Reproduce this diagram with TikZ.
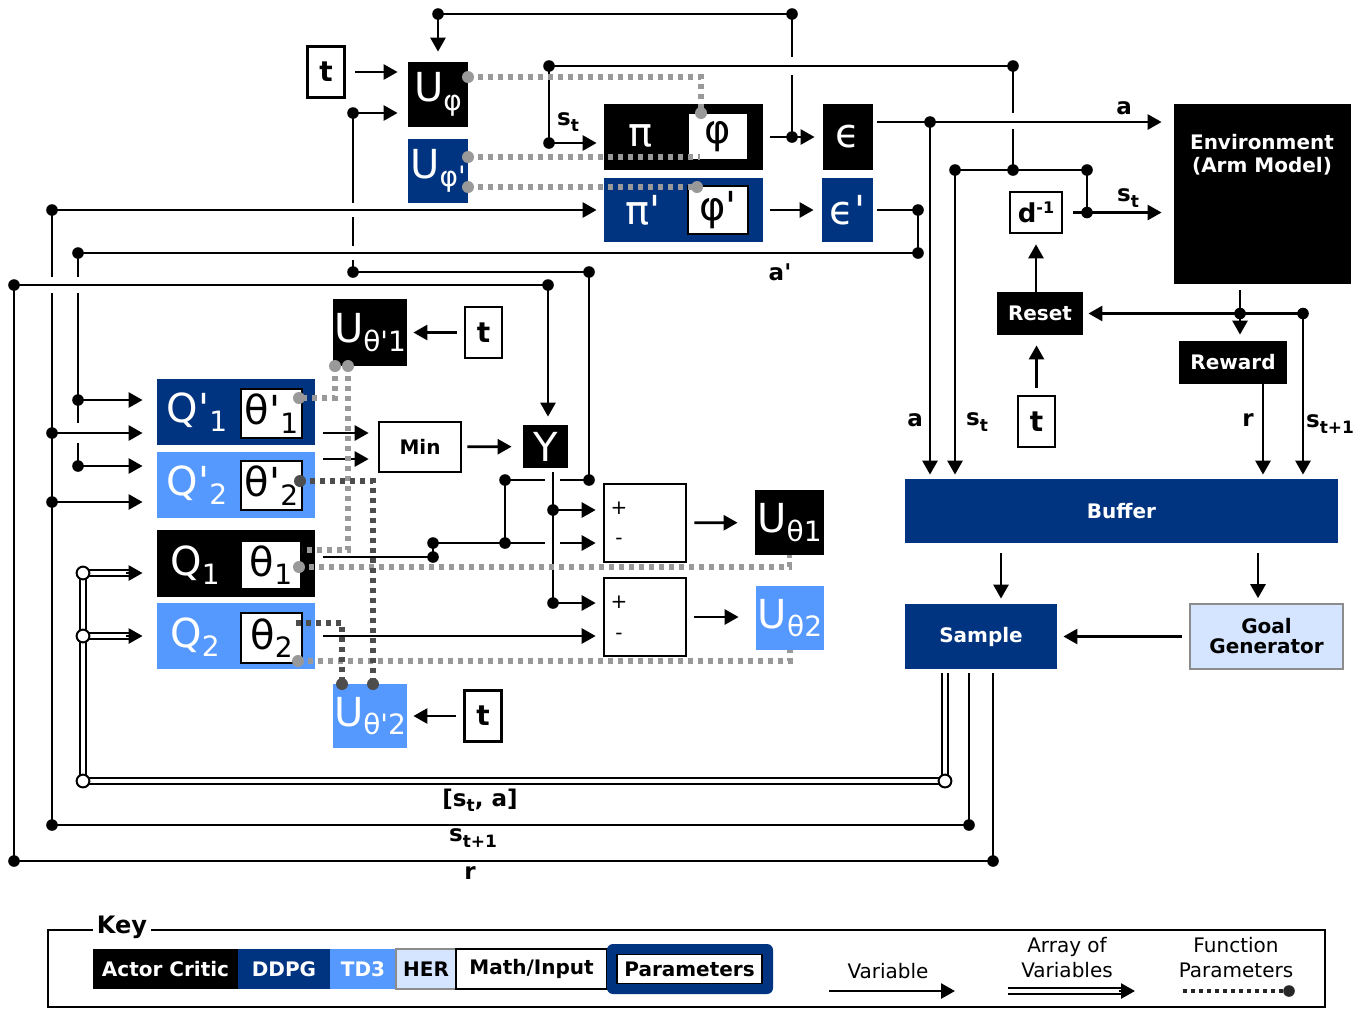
\documentclass[tikz,border=0pt]{standalone}
\usepackage{fontspec}
\setmainfont{DejaVu Sans}[Ligatures=TeXOff]
\usetikzlibrary{arrows.meta, positioning, calc}

\definecolor{navy}{HTML}{003380}
\definecolor{tdblue}{HTML}{5599FF}
\definecolor{herblue}{HTML}{D5E5FF}
\definecolor{parlight}{HTML}{999999}
\definecolor{pardark}{HTML}{4D4D4D}

\newcommand{\bigs}[1]{{\fontsize{20}{20}\selectfont #1}}
\newcommand{\lsub}[1]{{\fontsize{14}{14}\selectfont\raisebox{-0.3em}{#1}}}
\newcommand{\ssub}[1]{{\fontsize{8.5}{8.5}\selectfont\raisebox{-0.3em}{#1}}}

\tikzset{
    blk/.style={fill=black, text=white, inner sep=0pt},
    ddpg/.style={fill=navy, text=white, inner sep=0pt},
    td3/.style={fill=tdblue, text=white, inner sep=0pt},
    her/.style={fill=herblue, draw=black!45, line width=0.8pt, inner sep=0pt},
    mathbox/.style={draw, fill=white, line width=1.3pt, inner sep=0pt},
    prm/.style={draw, fill=white, line width=0.8pt, inner sep=0pt},
    tbox/.style={minimum width=18.5pt, minimum height=25.5pt, font=\fontsize{14}{14}\selectfont\bfseries},
    ln/.style={line width=1.35pt},
    arr/.style={line width=1.35pt, -{Triangle[length=7pt,width=7.5pt]}},
    dbl/.style={double, double distance=1.9pt, line width=1pt},
    plite/.style={parlight, line width=2.6pt, dash pattern=on 2.6pt off 2.4pt},
    pdrk/.style={pardark, line width=2.6pt, dash pattern=on 2.6pt off 2.4pt},
    lbl/.style={font=\fontsize{11.5}{11.5}\selectfont\bfseries, inner sep=0pt},
}

\begin{document}
\begin{tikzpicture}[x=0.5pt, y=-0.5pt]
    \useasboundingbox (0,0) rectangle (1365,1009);

    % Actor
    \node[mathbox, tbox] (t1) at (326,72) {t};
    \node[blk, minimum width=30pt, minimum height=32.5pt] (Uphi) at (438,94.5) {\bigs{U}\lsub{φ}};
    \node[ddpg, minimum width=30pt, minimum height=32pt] (Uphip) at (438,171) {\bigs{U}\lsub{φ'}};
    \node[blk, minimum width=79.5pt, minimum height=33pt] (pi) at (683.5,137) {};
    \node[text=white, inner sep=0pt] (pitxt) at (641,136) {\bigs{π}};
    \node[prm, minimum width=30pt, minimum height=23.5pt] (phi) at (718,136.5) {\bigs{φ}};
    \node[ddpg, minimum width=79.5pt, minimum height=32pt] (pip) at (683.5,210) {};
    \node[text=white, inner sep=0pt] (piptxt) at (643,210) {\bigs{π'}};
    \node[prm, minimum width=30pt, minimum height=24pt] (phip) at (718,210) {\bigs{φ'}};
    \node[blk, minimum width=25pt, minimum height=33pt] (eps) at (848,137) {\bigs{ϵ}};
    \node[ddpg, minimum width=25.5pt, minimum height=32pt] (epsp) at (847.5,210) {\bigs{ϵ'}};

    % Environment side
    \node[blk, minimum width=88.5pt, minimum height=90pt] (env) at (1262.5,194) {};
    \node[text=white, align=center, inner sep=0pt, font=\fontsize{10}{11.5}\selectfont\bfseries] (envtxt) at (1262,155) {Environment\\(Arm Model)};
    \node[mathbox, minimum width=26pt, minimum height=20.5pt] (dinv) at (1036,212.5) {{\fontsize{13}{13}\selectfont\bfseries d}{\fontsize{8}{8}\selectfont\bfseries\raisebox{0.55em}{-1}}};
    \node[blk, minimum width=43pt, minimum height=21.5pt, font=\bfseries] (reset) at (1040,313.5) {Reset};
    \node[mathbox, tbox] (t2) at (1036.5,421.5) {t};
    \node[blk, minimum width=54pt, minimum height=21.5pt, font=\bfseries] (reward) at (1233,362.5) {Reward};
    \node[ddpg, minimum width=216.5pt, minimum height=32pt, font=\bfseries] (buffer) at (1121.5,511) {Buffer};
    \node[ddpg, minimum width=76pt, minimum height=32.5pt, font=\bfseries] (sample) at (981,636.5) {Sample};
    \node[her, minimum width=76.5pt, minimum height=32.5pt, align=center, font=\fontsize{10}{10}\selectfont\bfseries] (goal) at (1266.5,636.5) {Goal\\Generator};

    % Critics
    \node[ddpg, minimum width=79pt, minimum height=33pt] (Qp1) at (236,412) {};
    \node[text=white, inner sep=0pt] (Qp1txt) at (197,412) {\bigs{Q'}\lsub{1}};
    \node[prm, minimum width=30.5pt, minimum height=24.5pt] (thp1) at (271.5,413.5) {\bigs{θ'}\lsub{1}};
    \node[td3, minimum width=79pt, minimum height=33pt] (Qp2) at (236,485) {};
    \node[text=white, inner sep=0pt] (Qp2txt) at (197,485) {\bigs{Q'}\lsub{2}};
    \node[prm, minimum width=30.5pt, minimum height=24.5pt] (thp2) at (271.5,485.5) {\bigs{θ'}\lsub{2}};
    \node[blk, minimum width=79pt, minimum height=33.5pt] (Q1) at (236,563.5) {};
    \node[text=white, inner sep=0pt] (Q1txt) at (195,565) {\bigs{Q}\lsub{1}};
    \node[prm, minimum width=30pt, minimum height=24pt] (th1) at (271,565) {\bigs{θ}\lsub{1}};
    \node[td3, minimum width=79pt, minimum height=33pt] (Q2) at (236,636) {};
    \node[text=white, inner sep=0pt] (Q2txt) at (195,637) {\bigs{Q}\lsub{2}};
    \node[prm, minimum width=30.5pt, minimum height=25pt] (th2) at (271.5,638) {\bigs{θ}\lsub{2}};

    % Critic updates
    \node[blk, minimum width=37pt, minimum height=33.5pt] (Utp1) at (370,332.5) {\bigs{U}\lsub{θ'1}};
    \node[mathbox, tbox] (t3) at (483.5,332.5) {t};
    \node[mathbox, minimum width=41pt, minimum height=25pt, font=\bfseries] (minb) at (420,447) {Min};
    \node[blk, minimum width=22.5pt, minimum height=21.5pt] (Yb) at (545.5,446.5) {\bigs{Y}};
    \node[mathbox, minimum width=41pt, minimum height=39pt] (sub1) at (645,523) {};
    \node[inner sep=0pt] (plus1) at (619,508) {+};
    \node[inner sep=0pt] (minus1) at (619,541) {-};
    \node[mathbox, minimum width=41pt, minimum height=39pt] (sub2) at (645,617) {};
    \node[inner sep=0pt] (plus2) at (619,602) {+};
    \node[inner sep=0pt] (minus2) at (619,636) {-};
    \node[blk, minimum width=34.5pt, minimum height=32.5pt] (Ut1) at (789.5,522.5) {\bigs{U}\lsub{θ1}};
    \node[td3, minimum width=34pt, minimum height=32pt] (Ut2) at (790,618) {\bigs{U}\lsub{θ2}};
    \node[td3, minimum width=37pt, minimum height=32pt] (Utp2) at (370,716) {\bigs{U}\lsub{θ'2}};
    \node[mathbox, tbox] (t4) at (483,716) {t};

    % Junctions
    \coordinate (jtopL) at (438,14);
    \coordinate (jtopR) at (792,14);
    \coordinate (jpe) at (792,137);
    \coordinate (jsA) at (549,66);
    \coordinate (jsB) at (1013,66);
    \coordinate (jsC) at (549,143);
    \coordinate (jst1) at (955,170);
    \coordinate (jst2) at (1013,170);
    \coordinate (jst3) at (1087,170);
    \coordinate (jst4) at (1087,212.5);
    \coordinate (ja1) at (930,122);
    \coordinate (jap1) at (918,210);
    \coordinate (jap2) at (918,253);
    \coordinate (jap3) at (78,253);
    \coordinate (js1) at (52,210);
    \coordinate (js1b) at (52,825);
    \coordinate (js1c) at (969,825);
    \coordinate (jr1) at (14,285);
    \coordinate (jr2) at (548,285);
    \coordinate (jr3) at (14,861);
    \coordinate (jr4) at (993,861);
    \coordinate (ju1) at (353,113);
    \coordinate (ju2) at (353,272);
    \coordinate (ju3) at (589,272);
    \coordinate (ju4) at (589,480);
    \coordinate (ju5) at (505,480);
    \coordinate (ju6) at (505,543);
    \coordinate (ju7) at (433,543);
    \coordinate (ju8) at (433,557);
    \coordinate (jq1) at (52,433);
    \coordinate (jq2) at (52,502);
    \coordinate (jq3) at (78,400);
    \coordinate (jq4) at (78,466);
    \coordinate (jy1) at (553,510);
    \coordinate (jy2) at (553,603);
    \coordinate (jenv) at (1240,313.5);
    \coordinate (jenv2) at (1303,313.5);
    \coordinate (rout) at (1263,384);
    \coordinate (bs) at (1001,543);
    \coordinate (bg) at (1258,543);
    \coordinate (jo1) at (945,781);
    \coordinate (jo2) at (83,781);
    \coordinate (jo3) at (83,573);
    \coordinate (jo4) at (83,636);

    % Actor wiring
    \draw[arr, shorten <=4.5pt, shorten >=5pt] (t1.east) -- (t1.east -| Uphi.west);
    \draw[ln] (jtopL) -- (jtopR);
    \draw[arr, shorten >=5pt] (jtopL) -- (Uphi.north);
    \draw[ln] (jtopR) -- ++(0,43) ++(0,18) -- (jpe);
    \draw[arr, shorten <=3.5pt, shorten >=4pt] (pi.east) -- (eps.west);
    \draw[arr, shorten <=3.5pt, shorten >=4pt] (pip.east) -- (epsp.west);
    \draw[ln] (jst2) -- ++(0,-41) ++(0,-16) -- (jsB) -- (jsA) -- (jsC);
    \draw[arr, shorten >=3.5pt] (jsC) -- (jsC -| pi.west);
    \draw[arr, shorten >=3.5pt] (js1) -- (pip.west);
    \draw[arr, shorten >=5pt] (ju1) -- (ju1 -| Uphi.west);

    % Action to environment
    \draw[ln, shorten <=2pt] (ja1 -| eps.east) -- (ja1);
    \draw[arr, shorten >=6pt] (ja1) -- (ja1 -| env.west);
    \draw[arr, shorten >=2pt] (ja1) -- (ja1 |- buffer.north);
    \draw[ln] (jst1) -- (jst3) -- (jst4);
    \draw[ln, shorten <=5pt] (dinv.east) -- (jst4);
    \draw[arr, shorten >=6pt] (jst4) -- (jst4 -| env.west);
    \draw[arr, shorten >=2pt] (jst1) -- (jst1 |- buffer.north);

    % Environment loop
    \draw[ln, shorten <=3pt] (env.south -| jenv) -- (jenv);
    \draw[arr, shorten >=3pt] (jenv) -- (jenv |- reward.north);
    \draw[arr, shorten >=2.5pt] (jenv2) -- (reset.east);
    \draw[arr, shorten >=2pt] (jenv2) -- (jenv2 |- buffer.north);
    \draw[arr, shorten >=2pt] (rout) -- (rout |- buffer.north);
    \draw[arr, shorten <=-2pt, shorten >=5pt] (reset.north -| dinv) -- (dinv.south);
    \draw[arr, shorten <=3.5pt, shorten >=5pt] (t2.north) -- (t2.north |- reset.south);

    % Buffer
    \draw[arr, shorten <=5pt, shorten >=2.5pt] (bs) -- (bs |- sample.north);
    \draw[arr, shorten <=5pt, shorten >=2.5pt] (bg) -- (bg |- goal.north);
    \draw[arr, shorten <=3.5pt, shorten >=3pt] (goal.west) -- (sample.east);

    % Target action a'
    \draw[ln, shorten <=2pt] (epsp.east) -- (jap1) -- (jap2) -- (jap3);
    \draw[ln] (jap3) -- ++(0,24) ++(0,16) -- ++(0,130) ++(0,20) -- (jq4);
    \draw[arr, shorten >=7pt] (jq3) -- (jq3 -| Qp1.west);
    \draw[arr, shorten >=7pt] (jq4) -- (jq4 -| Qp2.west);

    % s_t+1
    \draw[ln] (js1) -- ++(0,67) ++(0,16) -- (js1b) -- (js1c);
    \draw[ln, shorten <=2pt] (js1c |- sample.south) -- (js1c);
    \draw[arr, shorten >=7pt] (jq1) -- (jq1 -| Qp1.west);
    \draw[arr, shorten >=7pt] (jq2) -- (jq2 -| Qp2.west);

    % r
    \draw[ln, shorten <=2pt] (jr4 |- sample.south) -- (jr4) -- (jr3) -- (jr1) -- (jr2);
    \draw[arr, shorten >=4pt] (jr2) -- (jr2 |- Yb.north);

    % Q1 to actor update
    \draw[ln] (ju1) -- ++(0,90) ++(0,14) -- ++(0,29) ++(0,14) -- (ju2) -- (ju3) -- (ju4) -- ++(-29,0) ++(-15,0) -- (ju5) -- (ju6);
    \draw[ln, shorten <=4pt] (ju8 -| Q1.east) -- (ju8) -- (ju7) -- (ju6);
    \draw[arr, shorten >=3.5pt] (ju6) -- ++(40,0) ++(15,0) -- (ju6 -| sub1.west);

    % Targets
    \coordinate (min1) at ($(minb.west)+(0,-14)$);
    \coordinate (min2) at ($(minb.west)+(0,12)$);
    \draw[arr, shorten <=4pt, shorten >=4.5pt] (min1 -| Qp1.east) -- (min1);
    \draw[arr, shorten <=4pt, shorten >=4.5pt] (min2 -| Qp2.east) -- (min2);
    \draw[arr, shorten <=2.5pt, shorten >=5.5pt] (minb) -- (Yb);
    \draw[ln, shorten <=2pt] (jy1 |- Yb.south) -- (jy2);
    \draw[arr, shorten >=3.5pt] (jy1) -- (jy1 -| sub1.west);
    \draw[arr, shorten >=3.5pt] (jy2) -- (jy2 -| sub2.west);
    \draw[arr, shorten <=4pt, shorten >=3.5pt] (Q2.east |- minus2) -- (minus2 -| sub2.west);
    \draw[arr, shorten <=3.5pt, shorten >=8.5pt] (sub1) -- (Ut1);
    \draw[arr, shorten <=3.5pt, shorten >=8.5pt] (sub2) -- (sub2 -| Ut2.west);
    \draw[arr, shorten <=3.5pt, shorten >=3pt] (t3) -- (Utp1);
    \draw[arr, shorten <=3.5pt, shorten >=3pt] (t4) -- (Utp2);

    % Sampled [s_t, a]
    \draw[dbl, shorten <=2pt] (jo1 |- sample.south) -- (jo1) -- (jo2) -- (jo3);
    \draw[dbl] (jo3) -- ++(46,0);
    \draw[dbl] (jo4) -- ++(46,0);
    \draw[arr, shorten >=7pt] ($(jo3)+(43,0)$) -- (jo3 -| Q1.west);
    \draw[arr, shorten >=7pt] ($(jo4)+(43,0)$) -- (jo4 -| Q2.west);

    % Parameters
    \coordinate (pa) at (468,77);
    \coordinate (pb) at (701,113);
    \coordinate (pc) at (468,157);
    \coordinate (pd) at (700,157);
    \coordinate (pe) at (468,187);
    \coordinate (pf) at (697,187);
    \coordinate (pg) at (335,366);
    \coordinate (ph) at (299,398);
    \coordinate (pj) at (348,366);
    \coordinate (pk) at (302,550);
    \coordinate (pm) at (299,567);
    \coordinate (pn) at (300,481);
    \coordinate (po) at (373,684);
    \coordinate (pp) at (296,623);
    \coordinate (pq) at (342,684);
    \coordinate (pr) at (298,661);
    \draw[plite] (pa) -- (pa -| pb) -- (pb);
    \draw[plite] (pc) -- (pd);
    \draw[plite] (pe) -- (pf);
    \draw[plite] (pg) -- (pg |- ph) -- (ph);
    \draw[plite] (pj) -- (pj |- pk) -- (pk);
    \draw[plite] (pm) -- (pm -| Ut1.south) -- (Ut1.south);
    \draw[plite] (pr) -- (pr -| Ut2.south) -- (Ut2.south);
    \draw[pdrk] (pn) -- (pn -| po) -- (po);
    \draw[pdrk] (pp) -- (pp -| pq) -- (pq);
    \foreach \p in {pa,pb,pc,pe,pf,pg,ph,pj,pm,pr}
        \fill[parlight] (\p) circle (3pt);
    \foreach \p in {pn,po,pq}
        \fill[pardark] (\p) circle (3pt);

    % Dots
    \foreach \p in {jtopL,jtopR,jpe,jsA,jsB,jsC,jst1,jst2,jst3,jst4,ja1,jap1,jap2,jap3,js1,js1b,js1c,jr1,jr2,jr3,jr4,ju1,ju2,ju3,ju4,ju5,ju6,ju7,ju8,jq1,jq2,jq3,jq4,jy1,jy2,jenv,jenv2}
        \fill (\p) circle (2.9pt);
    \foreach \p in {jo1,jo2,jo3,jo4}
        \draw[fill=white, line width=1pt] (\p) circle (3.2pt);

    % Labels
    \node[lbl] (lst1) at (568,122) {s\ssub{t}};
    \node[lbl] (la1) at (1124,108) {a};
    \node[lbl] (lst2) at (1128,198) {s\ssub{t}};
    \node[lbl] (lap) at (780,272) {a'};
    \node[lbl] (la2) at (915,420) {a};
    \node[lbl] (lst3) at (977,422) {s\ssub{t}};
    \node[lbl] (lr1) at (1248,420) {r};
    \node[lbl] (lst4) at (1330,424) {s\ssub{t+1}};
    \node[lbl] (lsa) at (480,800) {[s\ssub{t}, a]};
    \node[lbl] (lst5) at (473,838) {s\ssub{t+1}};
    \node[lbl] (lr2) at (470,873) {r};

    % Key
    \draw[line width=0.9pt] (48,930) rectangle (1325,1007);
    \node[fill=white, inner sep=2pt, font=\fontsize{12}{12}\selectfont\bfseries] (keylbl) at (122,927) {Key};
    \node[blk, minimum width=72.5pt, minimum height=20pt, font=\bfseries] (kac) at (165.5,969) {Actor Critic};
    \node[ddpg, minimum width=46pt, minimum height=20pt, font=\bfseries] (kddpg) at (284,969) {DDPG};
    \node[td3, minimum width=33pt, minimum height=20pt, font=\bfseries] (ktd) at (363,969) {TD3};
    \node[her, minimum width=30pt, minimum height=20pt, font=\bfseries] (kher) at (426,969) {HER};
    \node[mathbox, line width=1pt, minimum width=75.5pt, minimum height=20pt, font=\bfseries] (kmath) at (531.5,969) {Math/Input};
    \node[ddpg, rounded corners=3pt, minimum width=83pt, minimum height=25pt] (kpar) at (690,969) {};
    \node[prm, minimum width=72.5pt, minimum height=14.5pt, font=\bfseries] (kpart) at (689.5,969) {Parameters};
    \node[inner sep=0pt] (kvar) at (888,971) {Variable};
    \node[inner sep=0pt, align=center, font=\fontsize{10}{12.5}\selectfont] (karr) at (1067,958) {Array of\\Variables};
    \node[inner sep=0pt, align=center, font=\fontsize{10}{12.5}\selectfont] (kfun) at (1236,958) {Function\\Parameters};
    \coordinate (kv1) at (829,991);
    \coordinate (kv2) at (955,991);
    \coordinate (kd1) at (1008,991);
    \coordinate (kd2) at (1135,991);
    \coordinate (kf1) at (1183,991);
    \coordinate (kf2) at (1289,991);
    \draw[arr] (kv1) -- (kv2);
    \draw[dbl] (kd1) -- ($(kd2)+(-13,0)$);
    \draw[arr] ($(kd2)+(-16,0)$) -- (kd2);
    \draw[pardark!50!black, line width=2pt, dash pattern=on 2pt off 2pt] (kf1) -- (kf2);
    \fill[pardark!50!black] (kf2) circle (2.9pt);
\end{tikzpicture}
\end{document}
